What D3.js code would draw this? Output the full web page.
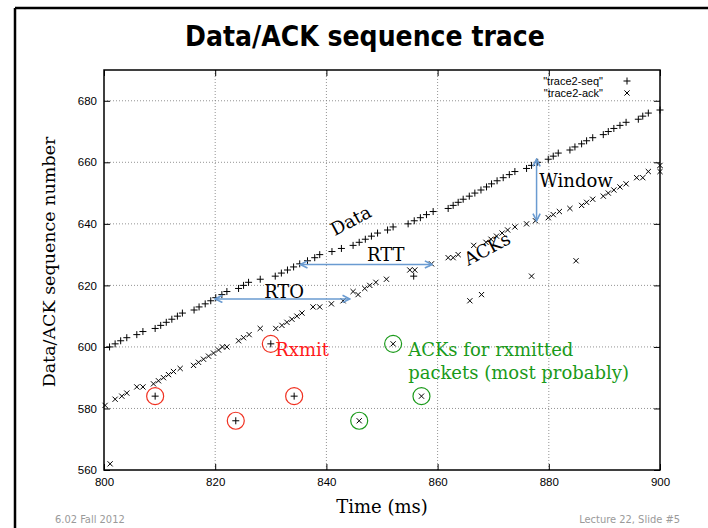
<!DOCTYPE html>
<html>
<head>
<script src="https://d3js.org/d3.v7.min.js"></script>
<style>
  body { margin: 0; background: #fff; }
  .tick text { font-family: 'Liberation Sans', Arial, sans-serif; font-size: 11.5px; fill: #000; }
  .tick line { stroke: #000; stroke-width: 1; }
  .grid line { stroke: #777; stroke-dasharray: 1,2; stroke-width: 0.8; }
  .serif { font-family: 'DejaVu Serif', serif; font-size: 18px; }
</style>
</head>
<body>
<svg id="chart" width="708" height="528"></svg>
<script>
// data packets on the main line: time (ms) and sequence number
var seqTime = [801.0, 802.0, 803.0, 804.1, 805.9, 807.0, 809.2, 810.2, 811.2, 812.2, 813.2, 814.1,
  816.2, 817.1, 818.2, 819.2, 820.1, 821.2, 822.1, 824.2, 825.1, 826.0, 828.1, 830.8,
  831.9, 833.0, 834.1, 835.2, 836.6, 837.9, 838.8, 841.0, 842.7, 844.8, 845.9, 847.0,
  848.1, 849.2, 851.0, 852.0, 854.7, 855.8, 856.9, 858.0, 859.2, 861.9, 862.8, 863.7,
  864.6, 865.7, 866.7, 867.8, 868.8, 869.7, 870.7, 871.8, 872.9, 873.9, 876.0, 876.9,
  878.0, 879.9, 880.8, 881.7, 883.8, 884.7, 885.9, 886.8, 887.9, 889.8, 890.7, 891.7,
  892.8, 893.9, 896.1, 896.9, 897.9, 900.0];
var seqNum = [600, 601, 602, 603, 604, 605, 606, 607, 608, 609, 610, 611,
  612, 613, 614, 615, 616, 617, 618, 619, 620, 621, 622, 623,
  624, 625, 626, 627, 628, 629, 630, 631, 632, 633, 634, 635,
  636, 637, 638, 639, 640, 641, 642, 643, 644, 645, 646, 647,
  648, 649, 650, 651, 652, 653, 654, 655, 656, 657, 658, 659,
  660, 661, 662, 663, 664, 665, 666, 667, 668, 669, 670, 671,
  672, 673, 674, 675, 676, 677];
// retransmitted data packets
var rxTime = [809.2, 823.7, 830.0, 834.2, 855.7];
var rxNum = [584, 576, 601, 584, 623];

// acks
var ackTime = [800.2, 801.1, 802.0, 803.2, 804.1, 805.9, 807.0, 808.9, 809.8, 810.7, 811.6, 812.5,
  813.7, 816.1, 817.0, 817.9, 818.8, 819.7, 820.6, 821.3, 822.1, 824.2, 825.1, 826.1,
  828.1, 830.9, 832.0, 832.9, 833.8, 834.7, 835.6, 837.6, 838.8, 840.9, 843.0, 844.8,
  845.7, 846.9, 847.8, 848.9, 850.8, 855.0, 855.9, 858.9, 861.9, 862.8, 863.7, 866.5,
  868.7, 869.6, 870.6, 871.6, 872.6, 873.9, 876.0, 877.6, 879.9, 880.8, 881.9, 883.8,
  885.9, 886.8, 887.9, 889.8, 890.7, 891.7, 892.8, 893.9, 895.8, 896.9, 897.9, 900.0,
  900.0, 865.8, 867.9, 876.9, 884.9, 845.9, 852.0, 857.1];
var ackNum = [581, 562, 583, 584, 585, 587, 587, 588, 589, 590, 591, 592,
  593, 594, 595, 596, 597, 598, 599, 600, 600, 602, 603, 604,
  606, 606, 607, 608, 609, 610, 611, 613, 613, 614, 615, 618,
  617, 619, 620, 621, 622, 625, 625, 627, 629, 629, 630, 633,
  634, 635, 636, 637, 638, 639, 640, 641, 642, 643, 644, 645,
  646, 647, 648, 649, 650, 651, 652, 653, 655, 655, 657, 657,
  659, 615, 617, 623, 628, 576, 601, 584];

// circled points
var redTime = [809.2, 823.7, 830.0, 834.2];
var redNum = [584, 576, 601, 584];
var greenTime = [845.9, 852.0, 857.1];
var greenNum = [576, 601, 584];

var xTicks = [800, 820, 840, 860, 880, 900];
var yTicks = [560, 580, 600, 620, 640, 660, 680];

var svg = d3.select("#chart");
var pL = 104, pR = 660, pT = 70, pB = 470;

var x = d3.scaleLinear().domain([800, 900]).range([pL, pR]);
var y = d3.scaleLinear().domain([560, 690]).range([pB, pT]);

// slide frame
svg.append("line").attr("x1", 15).attr("y1", 8).attr("x2", 708).attr("y2", 8)
  .attr("stroke", "#000").attr("stroke-width", 2.5);
svg.append("line").attr("x1", 15).attr("y1", 8).attr("x2", 15).attr("y2", 528)
  .attr("stroke", "#000").attr("stroke-width", 2.5);

svg.append("text").attr("x", 365).attr("y", 46).attr("text-anchor", "middle")
  .style("font-family", "'DejaVu Sans Condensed', 'DejaVu Sans', sans-serif")
  .style("font-stretch", "condensed").style("font-weight", "bold").style("font-size", "28px")
  .text("Data/ACK sequence trace");

// grid
var grid = svg.append("g").attr("class", "grid");
grid.selectAll(".gx").data(xTicks.slice(1, -1)).enter().append("line")
  .attr("x1", x).attr("x2", x).attr("y1", pT).attr("y2", pB);
grid.selectAll(".gy").data(yTicks.slice(1)).enter().append("line")
  .attr("x1", pL).attr("x2", pR).attr("y1", y).attr("y2", y);

// axes, ticks pointing inward
var gx = svg.append("g").attr("transform", "translate(0," + pB + ")")
  .call(d3.axisBottom(x).tickValues(xTicks).tickSize(-6).tickPadding(8));
var gy = svg.append("g").attr("transform", "translate(" + pL + ",0)")
  .call(d3.axisLeft(y).tickValues(yTicks).tickSize(-6).tickPadding(7));
var gt = svg.append("g").attr("transform", "translate(0," + pT + ")")
  .call(d3.axisTop(x).tickValues(xTicks).tickSize(-6).tickFormat(""));
var gr = svg.append("g").attr("transform", "translate(" + pR + ",0)")
  .call(d3.axisRight(y).tickValues(yTicks).tickSize(-6).tickFormat(""));
[gx, gy, gt, gr].forEach(function(g) { g.select(".domain").remove(); });

svg.append("rect").attr("x", pL).attr("y", pT)
  .attr("width", pR - pL).attr("height", pB - pT)
  .attr("fill", "none").attr("stroke", "#000").attr("stroke-width", 1.5);

svg.append("text").attr("class", "serif").attr("x", (pL + pR) / 2).attr("y", 513)
  .attr("text-anchor", "middle").text("Time (ms)");
svg.append("text").attr("class", "serif").attr("transform", "translate(55,262) rotate(-90)")
  .attr("text-anchor", "middle").style("font-size", "17.5px").text("Data/ACK sequence number");

var plus = "M-3.5,0H3.5M0,-3.5V3.5";
var cross = "M-2.6,-2.6L2.6,2.6M-2.6,2.6L2.6,-2.6";

var marks = svg.append("g").attr("stroke", "#000").attr("stroke-width", 1).attr("fill", "none");
marks.selectAll(".s").data(d3.zip(seqTime.concat(rxTime), seqNum.concat(rxNum))).enter().append("path")
  .attr("d", plus)
  .attr("transform", function(d) { return "translate(" + x(d[0]) + "," + y(d[1]) + ")"; });
marks.selectAll(".a").data(d3.zip(ackTime, ackNum)).enter().append("path")
  .attr("d", cross)
  .attr("transform", function(d) { return "translate(" + x(d[0]) + "," + y(d[1]) + ")"; });

svg.selectAll(".rc").data(d3.zip(redTime, redNum)).enter().append("circle")
  .attr("cx", function(d) { return x(d[0]); }).attr("cy", function(d) { return y(d[1]); })
  .attr("r", 8.5).attr("fill", "none").attr("stroke", "#f03020").attr("stroke-width", 1.2);
svg.selectAll(".gc").data(d3.zip(greenTime, greenNum)).enter().append("circle")
  .attr("cx", function(d) { return x(d[0]); }).attr("cy", function(d) { return y(d[1]); })
  .attr("r", 8.5).attr("fill", "none").attr("stroke", "#1a9a1a").attr("stroke-width", 1.2);

// legend
var legend = svg.append("g").style("font-family", "'Liberation Sans', Arial, sans-serif").style("font-size", "11px");
legend.append("text").attr("x", 603).attr("y", 85).attr("text-anchor", "end").text('"trace2-seq"');
legend.append("text").attr("x", 603).attr("y", 97).attr("text-anchor", "end").text('"trace2-ack"');
legend.append("path").attr("d", plus).attr("transform", "translate(627,81)").attr("stroke", "#000");
legend.append("path").attr("d", cross).attr("transform", "translate(627,93)").attr("stroke", "#000");

// blue double arrows
var blue = "#6a9bd1";
svg.append("defs").append("marker").attr("id", "head")
  .attr("viewBox", "0 0 10 10").attr("refX", 9).attr("refY", 5)
  .attr("markerWidth", 9).attr("markerHeight", 9).attr("markerUnits", "userSpaceOnUse")
  .attr("orient", "auto-start-reverse")
  .append("path").attr("d", "M1,1L9,5L1,9").attr("fill", "none").attr("stroke", blue).attr("stroke-width", 1.8);

var arrows = [
  [820.0, 615.6, 844.2, 615.6],
  [835.3, 626.8, 859.0, 626.8],
  [877.8, 641.0, 877.8, 661.0]
];
svg.selectAll(".arr").data(arrows).enter().append("line")
  .attr("x1", function(d) { return x(d[0]); }).attr("y1", function(d) { return y(d[1]); })
  .attr("x2", function(d) { return x(d[2]); }).attr("y2", function(d) { return y(d[3]); })
  .attr("stroke", blue).attr("stroke-width", 1.5)
  .attr("marker-start", "url(#head)").attr("marker-end", "url(#head)");

// annotations
function note(t, s, txt, color, rot, anchor) {
  var px = x(t), py = y(s);
  svg.append("text").attr("class", "serif")
    .attr("transform", "translate(" + px + "," + py + ")" + (rot ? " rotate(" + rot + ")" : ""))
    .attr("text-anchor", anchor || "start").attr("fill", color).text(txt);
}
note(828.8, 615.9, "RTO", "#000");
note(847.3, 628.0, "RTT", "#000");
note(878.3, 652.0, "Window", "#000");
note(841.5, 636.0, "Data", "#000", -28);
note(865.5, 626.3, "ACKs", "#000", -28);
note(830.8, 597.2, "Rxmit", "#ff1a1a");
note(854.7, 597.2, "ACKs for rxmitted", "#1a9a1a");
note(854.7, 589.6, "packets (most probably)", "#1a9a1a");

// footer
var foot = svg.append("g").style("font-family", "'DejaVu Sans Condensed', 'DejaVu Sans', sans-serif")
  .style("font-stretch", "condensed").style("font-size", "11px").attr("fill", "#9a9a9a");
foot.append("text").attr("x", 55).attr("y", 523).text("6.02 Fall 2012");
foot.append("text").attr("x", 680).attr("y", 523).attr("text-anchor", "end").text("Lecture 22, Slide #5");
</script>
</body>
</html>
